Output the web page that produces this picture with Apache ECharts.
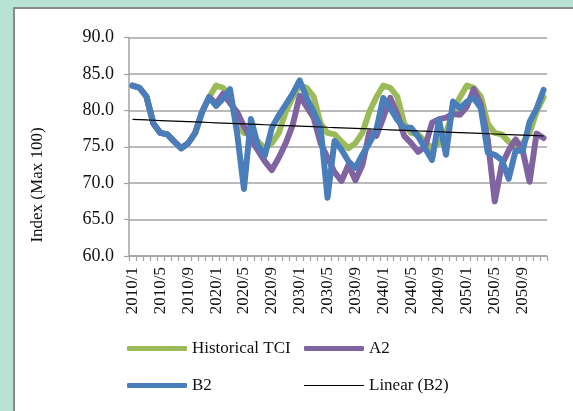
<!DOCTYPE html>
<html>
<head>
<meta charset="utf-8">
<script src="https://cdn.jsdelivr.net/npm/echarts@6/dist/echarts.min.js"></script>
<style>
  html, body { margin:0; padding:0; width:573px; height:411px; overflow:hidden; background:#b6e3d4; }
  #panel { position:absolute; left:13px; top:7px; width:700px; height:600px; background:#fff; border:2px solid #8a8a8a; box-sizing:border-box; }
  #chart { position:absolute; left:0; top:0; width:573px; height:411px; }
</style>
</head>
<body>
<div id="panel"></div>
<div id="chart"></div>
<script>
// ---- data ----
const categories = [
  "2010/1","2010/2","2010/3","2010/4","2010/5","2010/6","2010/7","2010/8","2010/9","2010/10","2010/11","2010/12",
  "2020/1","2020/2","2020/3","2020/4","2020/5","2020/6","2020/7","2020/8","2020/9","2020/10","2020/11","2020/12",
  "2030/1","2030/2","2030/3","2030/4","2030/5","2030/6","2030/7","2030/8","2030/9","2030/10","2030/11","2030/12",
  "2040/1","2040/2","2040/3","2040/4","2040/5","2040/6","2040/7","2040/8","2040/9","2040/10","2040/11","2040/12",
  "2050/1","2050/2","2050/3","2050/4","2050/5","2050/6","2050/7","2050/8","2050/9","2050/10","2050/11","2050/12"
];
const historicalTCI = [
  83.4, 83.1, 81.9, 78.2, 76.9, 76.7, 75.7, 74.8, 75.5, 76.9, 79.8, 81.8,
  83.4, 83.1, 81.9, 78.2, 76.9, 76.7, 75.7, 74.8, 75.5, 76.9, 79.8, 81.8,
  83.4, 83.1, 81.9, 78.2, 76.9, 76.7, 75.7, 74.8, 75.5, 76.9, 79.8, 81.8,
  83.4, 83.1, 81.9, 78.2, 76.9, 76.7, 75.7, 74.8, 75.5, 76.9, 79.8, 81.8,
  83.4, 83.1, 81.9, 78.2, 76.9, 76.7, 75.7, 74.8, 75.5, 76.9, 79.8, 81.8
];
const a2 = [
  83.4, 83.1, 81.9, 78.2, 76.9, 76.7, 75.7, 74.8, 75.5, 76.9, 79.8, 81.8,
  80.9, 82.3, 81.0, 79.8, 77.8, 76.0, 74.5, 73.0, 71.8, 73.5, 75.5, 78.0,
  82.0, 80.5, 79.0, 75.5, 73.5, 71.5, 70.3, 72.5, 70.4, 72.5, 77.0, 76.5,
  79.0, 81.7, 79.5, 76.5, 75.5, 74.3, 75.0, 78.3, 78.8, 79.0, 79.5, 79.4,
  80.5, 82.9, 80.8, 76.0, 67.5, 72.5, 74.5, 76.0, 74.5, 70.2, 76.8, 76.2
];
const b2 = [
  83.4, 83.1, 81.9, 78.2, 76.9, 76.7, 75.7, 74.8, 75.5, 76.9, 79.8, 81.8,
  80.6, 81.6, 82.9, 77.0, 69.2, 78.8, 75.2, 73.8, 77.6, 79.3, 80.8, 82.3,
  84.1, 81.7, 79.8, 77.6, 68.0, 75.8, 74.6, 73.0, 72.1, 73.9, 75.5, 77.3,
  81.7, 80.3, 78.7, 77.6, 77.6, 76.4, 74.8, 73.2, 78.7, 73.9, 81.2, 80.3,
  81.2, 81.7, 80.3, 74.2, 73.9, 73.2, 70.6, 74.5, 74.4, 78.4, 80.2, 82.8
];
const yTicks = { min: 60, max: 90, step: 5 };
const seriesNames = ["Historical TCI", "A2", "B2", "Linear (B2)"];

// Excel-style linear trendline (least squares on B2)
function linearTrend(values) {
  const n = values.length;
  let sx = 0, sy = 0, sxx = 0, sxy = 0;
  values.forEach((v, i) => { const x = i + 1; sx += x; sy += v; sxx += x * x; sxy += x * v; });
  const slope = (n * sxy - sx * sy) / (n * sxx - sx * sx);
  const icpt = (sy - slope * sx) / n;
  return values.map((v, i) => +(icpt + slope * (i + 1)).toFixed(3));
}
const trendB2 = linearTrend(b2);

const FONT = "Liberation Serif";
const TXT = "#111";
const GRID_C = "#a3a3a3";

const chart = echarts.init(document.getElementById('chart'), null, { renderer: 'canvas' });

function legendAt(name, left, top, icon, h) {
  return {
    data: [name], left: left, top: top, orient: 'horizontal',
    icon: icon, itemWidth: 60, itemHeight: h, itemGap: 0, padding: 0,
    textStyle: { fontFamily: FONT, fontSize: 17, color: TXT }
  };
}

chart.setOption({
  animation: false,
  backgroundColor: 'transparent',
  grid: { left: 129, right: 26, top: 37.5, bottom: 155, containLabel: false },
  legend: [
    legendAt(seriesNames[0], 127, 340, 'roundRect', 5),
    legendAt(seriesNames[1], 304, 340, 'roundRect', 5),
    legendAt(seriesNames[2], 127, 377, 'roundRect', 5),
    legendAt(seriesNames[3], 304, 377, 'rect', 1)
  ],
  graphic: [{
    type: 'text', x: 38, y: 185, rotation: Math.PI / 2,
    style: { text: 'Index (Max 100)', fontFamily: FONT, fontSize: 17, fill: TXT, align: 'center', verticalAlign: 'middle' }
  }],
  xAxis: {
    type: 'category', data: categories, boundaryGap: true,
    axisLine: { show: true, lineStyle: { color: GRID_C, width: 1.5 } },
    axisTick: { show: true, interval: 0, length: 5, lineStyle: { color: GRID_C, width: 1.2 } },
    axisLabel: { interval: 3, rotate: 90, margin: 11, fontFamily: FONT, fontSize: 17, color: TXT },
    splitLine: { show: false }
  },
  yAxis: {
    type: 'value', min: yTicks.min, max: yTicks.max, interval: yTicks.step,
    axisLine: { show: true, lineStyle: { color: GRID_C, width: 1.5 } },
    axisTick: { show: true, length: 5, lineStyle: { color: GRID_C, width: 1.2 } },
    axisLabel: { margin: 15, fontFamily: FONT, fontSize: 18, color: TXT, formatter: v => v.toFixed(1) },
    splitLine: { show: true, lineStyle: { color: GRID_C, width: 1.5 } }
  },
  series: [
    { name: seriesNames[0], type: 'line', data: historicalTCI, symbol: 'none', z: 2,
      color: '#9bbb59', lineStyle: { width: 6, color: '#9bbb59', join: 'round', cap: 'round' } },
    { name: seriesNames[1], type: 'line', data: a2, symbol: 'none', z: 3,
      color: '#8064a2', lineStyle: { width: 6, color: '#8064a2', join: 'round', cap: 'round' } },
    { name: seriesNames[2], type: 'line', data: b2, symbol: 'none', z: 4,
      color: '#4a7ebb', lineStyle: { width: 6, color: '#4a7ebb', join: 'round', cap: 'round' } },
    { name: seriesNames[3], type: 'line', data: trendB2, symbol: 'none', z: 5,
      color: '#000', lineStyle: { width: 1.2, color: '#000' } }
  ]
});
</script>
</body>
</html>
